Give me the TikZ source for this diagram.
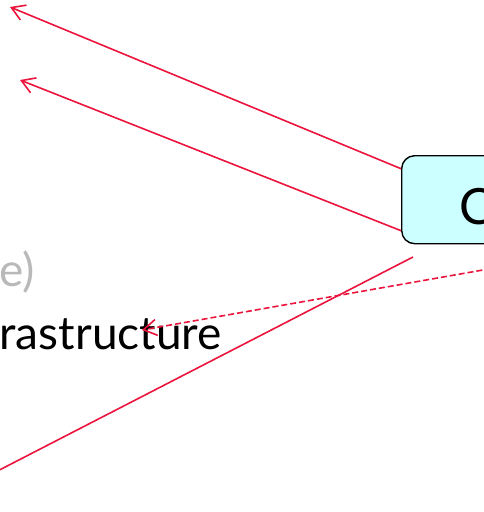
\documentclass[tikz,border=0pt]{standalone}
\usepackage{fontspec}
\setmainfont{Lato}
\usetikzlibrary{arrows.meta}
\definecolor{linkred}{RGB}{235,20,60}
\definecolor{boxcyan}{RGB}{204,255,255}
\definecolor{fadegray}{RGB}{185,185,185}
\tikzset{
  ctrlbox/.style={draw=black, line width=1.4pt, fill=boxcyan, rounded corners=13pt,
    minimum width=148pt, text height=69pt, text depth=19pt, inner ysep=0pt,
    font=\fontsize{50}{54}\selectfont},
  label/.style={inner sep=0pt, font=\fontsize{46}{50}\selectfont},
  link/.style={draw=linkred, line width=1.6pt},
  tip/.style={-{Straight Barb[length=13pt,width=16pt]}}
}
\begin{document}
\begin{tikzpicture}[x=1pt, y=-1pt]
  \useasboundingbox (0,0) rectangle (484,512);
  \node[ctrlbox, anchor=north west] (ctrl) at (401,155) {C};
  \node[label, text=fadegray, anchor=base east] (old) at (35,286) {e)};
  \node[label, anchor=base east] (infra) at (222,349) {rastructure};
  \coordinate (up1) at (10,7);
  \coordinate (up2) at (20,80);
  \coordinate (low1) at (413,257);
  \coordinate (low2) at (-20,480);
  \coordinate (far) at (500,267);
  \coordinate (infratip) at (142,330);
  \begin{scope}[link]
    \draw[tip] ([yshift=31pt]ctrl.west) -- (up1);
    \draw[tip] ([yshift=-31pt]ctrl.west) -- (up2);
    \draw (low1) -- (low2);
    \draw[tip, dash pattern=on 6pt off 3pt] (far) -- (infratip);
  \end{scope}
\end{tikzpicture}
\end{document}
